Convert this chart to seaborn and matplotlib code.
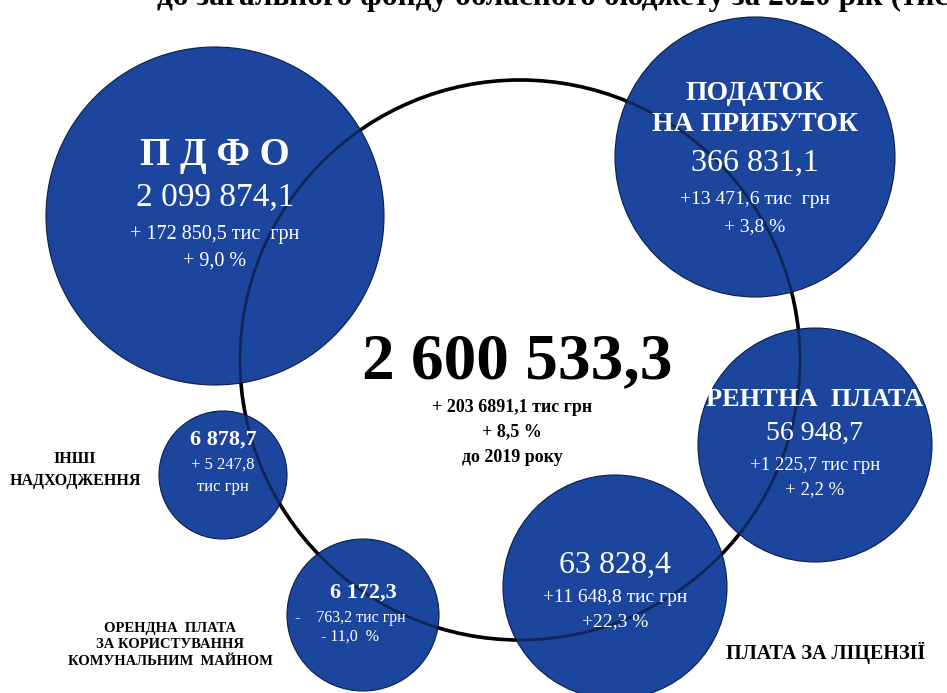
import numpy as np
import pandas as pd
import matplotlib
matplotlib.use("Agg")
import matplotlib.pyplot as plt
from matplotlib.patches import Circle
import seaborn as sns

# ----------------------------------------------------------
# DATA (тис грн, 2020)
# ----------------------------------------------------------
title = "до загального фонду обласного бюджету за 2020 рік (тис. грн)"

total_value = "2 600 533,3"
total_lines = ["+ 203 6891,1 тис грн", "+ 8,5 %", "до 2019 року"]

names = ["П Д Ф О", "ПОДАТОК\nНА ПРИБУТОК", "РЕНТНА  ПЛАТА", "", "", ""]
values = ["2 099 874,1", "366 831,1", "56 948,7", "63 828,4", "6 878,7", "6 172,3"]
changes = ["+ 172 850,5 тис  грн", "+13 471,6 тис  грн", "+1 225,7 тис грн",
           "+11 648,8 тис грн", "+ 5 247,8", "-    763,2 тис грн"]
percents = ["+ 9,0 %", "+ 3,8 %", "+ 2,2 %", "+22,3 %", "тис грн", "- 11,0  %"]
outer_labels = ["", "", "", "ПЛАТА ЗА ЛІЦЕНЗІЇ", "ІНШІ\nНАДХОДЖЕННЯ",
                "ОРЕНДНА  ПЛАТА\nЗА КОРИСТУВАННЯ\nКОМУНАЛЬНИМ  МАЙНОМ"]

# ----------------------------------------------------------
# LAYOUT (pixel coordinates)
# ----------------------------------------------------------
cx = [215, 755, 815, 615, 223, 363]
cy = [216, 157, 445, 587, 475, 615]
rad = [169, 140, 117, 112, 64, 76]

BLUE = "#1c469d"
serif = ["Liberation Serif", "DejaVu Serif"]

sns.set_theme(style="white")
plt.rcParams["font.family"] = serif

fig = plt.figure(figsize=(9.47, 6.93), dpi=100)
ax = fig.add_axes([0, 0, 1, 1])

# big ring behind everything
ax.add_patch(Circle((520, 360), 280, fill=False, ec="black", lw=2.6, zorder=1))

# bubbles: marker diameter in points = 2 * r(px) * 72 / dpi
df = pd.DataFrame({"x": cx, "y": cy, "r": rad})
sizes = (2 * df["r"] * 72 / 100) ** 2
sns.scatterplot(data=df, x="x", y="y", s=sizes, color=BLUE, edgecolor="#0b1d4a",
                linewidth=0.8, ax=ax, legend=False, zorder=2)

# ring again, semi-transparent, so it shows through the bubbles as dark navy
ax.add_patch(Circle((520, 360), 280, fill=False, ec="black", lw=2.0, alpha=0.45, zorder=3))

ax.set_xlim(0, 947)
ax.set_ylim(693, 0)
ax.axis("off")

W = "white"

# ПДФО
ax.text(cx[0], 155, names[0], color=W, fontsize=28, fontweight="bold", ha="center", va="center", zorder=5)
ax.text(cx[0], 197, values[0], color=W, fontsize=24, ha="center", va="center", zorder=5)
ax.text(cx[0], 235, changes[0], color=W, fontsize=14.5, ha="center", va="center", zorder=5)
ax.text(cx[0], 261, percents[0], color=W, fontsize=14.5, ha="center", va="center", zorder=5)

# податок на прибуток
ax.text(cx[1], 109, names[1], color=W, fontsize=20, fontweight="bold", ha="center", va="center",
        linespacing=1.28, zorder=5)
ax.text(cx[1], 163, values[1], color=W, fontsize=23, ha="center", va="center", zorder=5)
ax.text(cx[1], 200, changes[1], color=W, fontsize=14, ha="center", va="center", zorder=5)
ax.text(cx[1], 227, percents[1], color=W, fontsize=14, ha="center", va="center", zorder=5)

# рентна плата
ax.text(cx[2], 400, names[2], color=W, fontsize=19, fontweight="bold", ha="center", va="center", zorder=5)
ax.text(cx[2], 433, values[2], color=W, fontsize=20, ha="center", va="center", zorder=5)
ax.text(cx[2], 465, changes[2], color=W, fontsize=13.5, ha="center", va="center", zorder=5)
ax.text(cx[2], 490, percents[2], color=W, fontsize=13.5, ha="center", va="center", zorder=5)

# плата за ліцензії
ax.text(cx[3], 565, values[3], color=W, fontsize=23, ha="center", va="center", zorder=5)
ax.text(cx[3], 597, changes[3], color=W, fontsize=14, ha="center", va="center", zorder=5)
ax.text(cx[3], 622, percents[3], color=W, fontsize=14, ha="center", va="center", zorder=5)
ax.text(726, 653, outer_labels[3], color="black", fontsize=14.5, fontweight="bold",
        ha="left", va="center", zorder=5)

# інші надходження
ax.text(cx[4], 440, values[4], color=W, fontsize=16, fontweight="bold", ha="center", va="center", zorder=5)
ax.text(cx[4], 465, changes[4], color=W, fontsize=12, ha="center", va="center", zorder=5)
ax.text(cx[4], 487, percents[4], color=W, fontsize=12, ha="center", va="center", zorder=5)
ax.text(75, 470, outer_labels[4], color="black", fontsize=11.5, fontweight="bold",
        ha="center", va="center", linespacing=1.5, zorder=5)

# орендна плата
ax.text(cx[5], 593, values[5], color=W, fontsize=16, fontweight="bold", ha="center", va="center", zorder=5)
ax.text(350, 618, changes[5], color=W, fontsize=11.5, ha="center", va="center", zorder=5)
ax.text(350, 637, percents[5], color=W, fontsize=11.5, ha="center", va="center", zorder=5)
ax.text(170, 645, outer_labels[5], color="black", fontsize=10.5, fontweight="bold",
        ha="center", va="center", linespacing=1.35, zorder=5)

# загальна сума
ax.text(517, 362, total_value, color="black", fontsize=47, fontweight="bold", ha="center", va="center", zorder=5)
for i, line in enumerate(total_lines):
    ax.text(512, 407 + 25 * i, line, color="black", fontsize=13, fontweight="bold",
            ha="center", va="center", zorder=5)

# заголовок (обрізаний зверху, як в оригіналі)
ax.text(157, 5, title, color="black", fontsize=22.5, fontweight="bold", ha="left",
        va="baseline", zorder=5)

fig.savefig("out.png", dpi=100)
